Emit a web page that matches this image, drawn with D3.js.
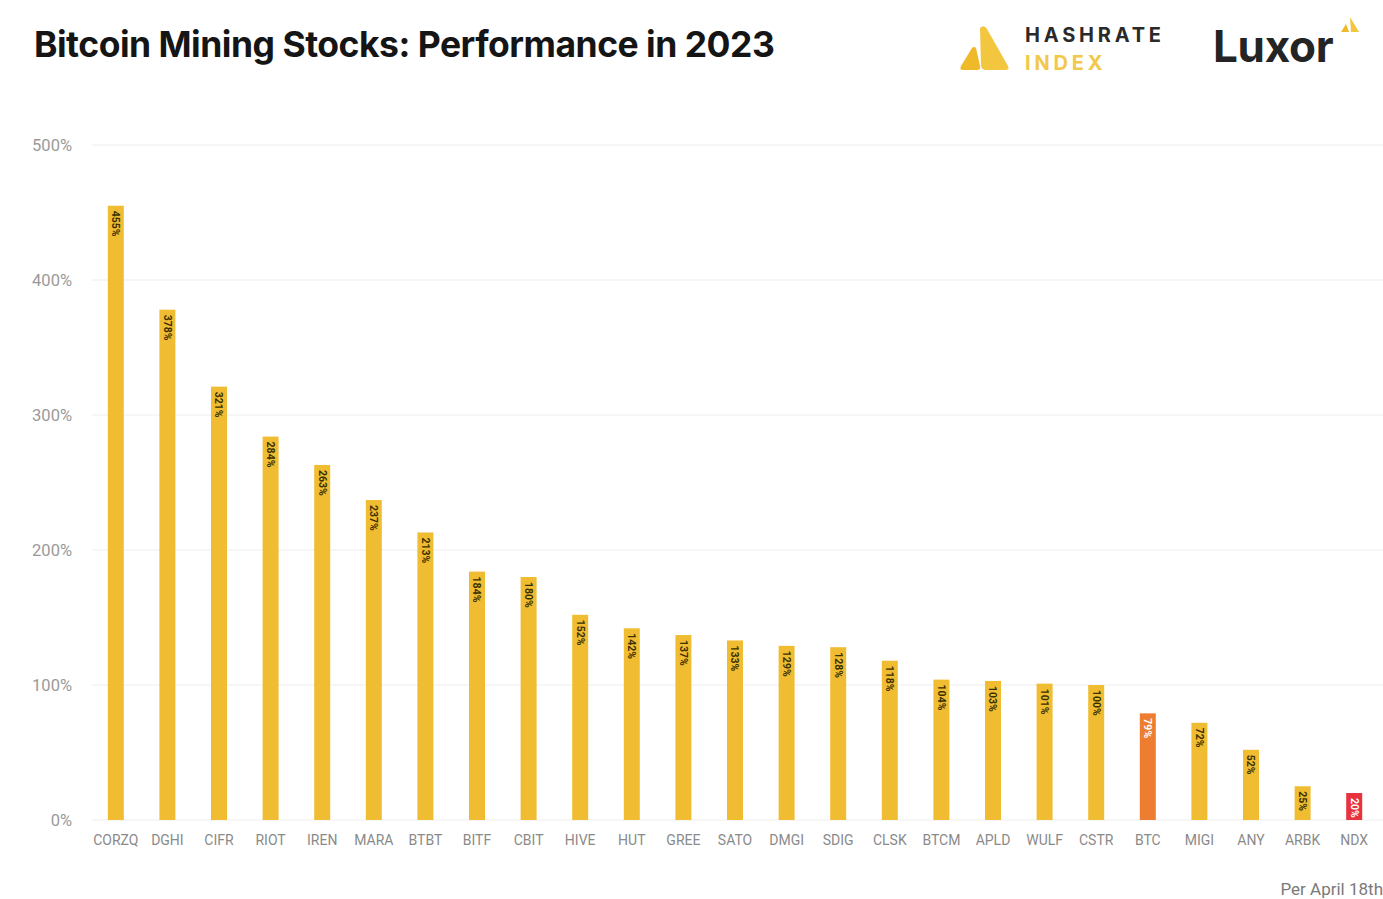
<!DOCTYPE html>
<html><head><meta charset="utf-8">
<script src="https://cdn.jsdelivr.net/npm/d3@7"></script>
<style>html,body{margin:0;padding:0;background:#fff;}svg{display:block;}</style>
</head><body>
<script>
const categories = ["CORZQ","DGHI","CIFR","RIOT","IREN","MARA","BTBT","BITF","CBIT","HIVE","HUT","GREE","SATO","DMGI","SDIG","CLSK","BTCM","APLD","WULF","CSTR","BTC","MIGI","ANY","ARBK","NDX"];
const values = [455,378,321,284,263,237,213,184,180,152,142,137,133,129,128,118,104,103,101,100,79,72,52,25,20];
const yTicks = [0,100,200,300,400,500];
const highlight = {"BTC":"#ED7D31","NDX":"#E8333E"};
const baseColor = "#F0BD32";

const W=1383,H=899;
const svg=d3.select("body").append("svg").attr("width",W).attr("height",H);
const font="Roboto, 'Open Sans', sans-serif";

const x=d3.scaleBand().domain(categories).range([90,1380]).paddingInner(0.69).paddingOuter(0.345);
const y=d3.scaleLinear().domain([0,500]).range([820,145]);

// gridlines
svg.append("g").selectAll("line").data(yTicks).join("line")
 .attr("x1",92).attr("x2",1383).attr("y1",d=>y(d)).attr("y2",d=>y(d))
 .attr("stroke","#eeeeee").attr("stroke-width",1);

// y axis labels
const yAxis=d3.axisLeft(y).tickValues(yTicks).tickFormat(d=>d+"%").tickSize(0).tickPadding(0);
const ya=svg.append("g").attr("transform","translate(72,0)").call(yAxis);
ya.select(".domain").remove();
ya.selectAll("text").attr("font-family",font).attr("font-size",16.5).attr("fill","#9a9a9a").attr("dy","0.32em");

// x axis labels
const xAxis=d3.axisBottom(x).tickSize(0).tickPadding(0);
const xa=svg.append("g").attr("transform","translate(0,835)").call(xAxis);
xa.select(".domain").remove();
xa.selectAll("text").attr("font-family",font).attr("font-size",14).attr("fill","#8a8a8a").attr("dy","0.72em");

// bars
const data=categories.map((c,i)=>({c,v:values[i]}));
svg.append("g").selectAll("rect").data(data).join("rect")
 .attr("x",d=>x(d.c)).attr("width",x.bandwidth())
 .attr("y",d=>y(d.v)).attr("height",d=>y(0)-y(d.v))
 .attr("fill",d=>highlight[d.c]||baseColor);

// value labels rotated
svg.append("g").selectAll("text").data(data).join("text")
 .attr("transform",d=>`translate(${x(d.c)+x.bandwidth()/2},${y(d.v)+5}) rotate(90)`)
 .attr("dy","0.35em").attr("text-anchor","start")
 .attr("font-family",font).attr("font-size",10.5).attr("font-weight",700)
 .attr("fill",d=>highlight[d.c]?"#ffffff":"#3a3000")
 .text(d=>d.v+"%");

// title
svg.append("text").attr("x",34).attr("y",57).attr("font-family","Inter, 'Open Sans', sans-serif")
 .attr("font-size",35.5).attr("font-weight",700).attr("fill","#151515").attr("letter-spacing",-0.5)
 .text("Bitcoin Mining Stocks: Performance in 2023");

// Hashrate Index logo
const logo=svg.append("g");
logo.append("path").attr("d","M980,28 Q984,24 987,29 L1008,66 Q1010,70 1005,70 L986,70 Q982,70 981,66 Z").attr("fill","#F3C63F");
logo.append("path").attr("d","M972,48 Q974,46 976,48 L980,66 Q981,70 977,70 L963,70 Q959,70 961,66 Z").attr("fill","#EFB929");
logo.append("text").attr("x",1025).attr("y",42).attr("font-family","Inter, sans-serif").attr("font-size",20).attr("font-weight",700)
 .attr("letter-spacing",3.8).attr("fill","#2a2a2a").text("HASHRATE");
logo.append("text").attr("x",1025).attr("y",70).attr("font-family","Inter, sans-serif").attr("font-size",20).attr("font-weight",700)
 .attr("letter-spacing",3.8).attr("fill","#F2C84B").text("INDEX");

// Luxor
svg.append("text").attr("x",1213).attr("y",62).attr("font-family","Inter, sans-serif").attr("font-size",44).attr("font-weight",700)
 .attr("fill","#242424").attr("letter-spacing",-0.3).text("Luxor");
svg.append("path").attr("d","M1350,17 L1359,32 L1351,32 Z").attr("fill","#F3C63F");
svg.append("path").attr("d","M1346,24 L1349,32 L1341,32 Z").attr("fill","#EFB929");

// footer
svg.append("text").attr("x",1383).attr("y",895).attr("text-anchor","end").attr("font-family",font)
 .attr("font-size",17).attr("fill","#7a7a7a").text("Per April 18th");
</script>
</body></html>
